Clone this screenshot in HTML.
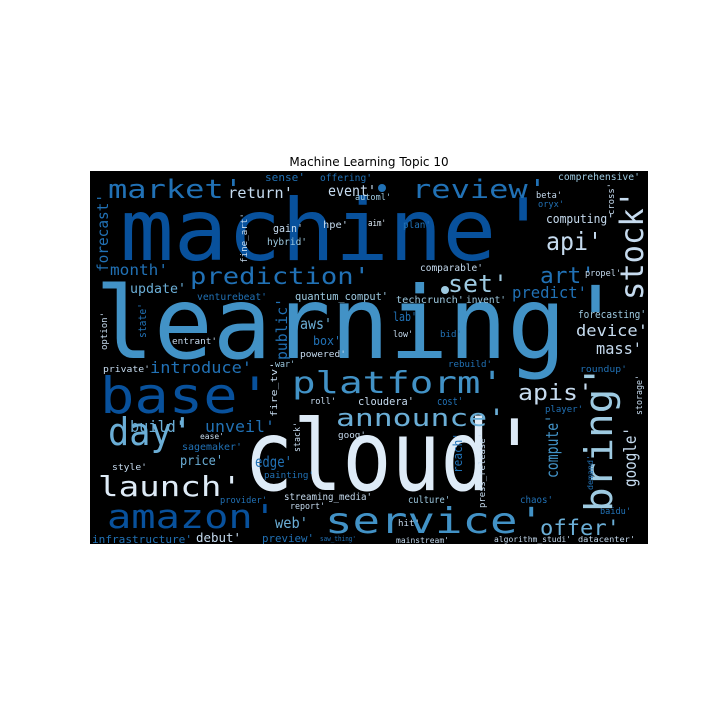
<!DOCTYPE html>
<html><head><meta charset="utf-8"><style>
html,body{margin:0;padding:0;background:#fff;}
svg{display:block;}
text{font-family:"DejaVu Sans Mono","Liberation Mono",monospace;}
.D{fill:#08519c}.M{fill:#2171b5}.B{fill:#4292c6}.L{fill:#6baed6}.LL{fill:#9ecae1}.P{fill:#c6dbef}.W{fill:#deebf7}
</style></head><body>
<svg width="720" height="720" viewBox="0 0 720 720" xmlns="http://www.w3.org/2000/svg">
<rect width="720" height="720" fill="#fff"/>
<text x="369" y="166" text-anchor="middle" style="font-family:'DejaVu Sans','Liberation Sans',sans-serif" font-size="12" fill="#000">Machine Learning Topic 10</text>
<rect x="90" y="171" width="558" height="373" fill="#000"/>
<g>
<text class="D" x="120" y="260" font-size="86" textLength="430" lengthAdjust="spacingAndGlyphs">machine'</text>
<text class="B" x="95" y="358" font-size="100" textLength="530" lengthAdjust="spacingAndGlyphs">learning'</text>
<text class="W" x="244" y="490" font-size="98" textLength="295" lengthAdjust="spacingAndGlyphs">cloud'</text>
<text class="D" x="100" y="413" font-size="50" textLength="172" lengthAdjust="spacingAndGlyphs">base'</text>
<text class="B" x="292" y="393" font-size="30" textLength="212" lengthAdjust="spacingAndGlyphs">platform'</text>
<text class="L" x="336" y="426" font-size="24" textLength="170" lengthAdjust="spacingAndGlyphs">announce'</text>
<text class="B" x="325" y="533" font-size="36" textLength="220" lengthAdjust="spacingAndGlyphs">service'</text>
<text class="D" x="107" y="528" font-size="33" textLength="170" lengthAdjust="spacingAndGlyphs">amazon'</text>
<text class="W" x="98" y="496" font-size="28" textLength="144" lengthAdjust="spacingAndGlyphs">launch'</text>
<text class="L" x="108" y="445" font-size="38" textLength="85" lengthAdjust="spacingAndGlyphs">day'</text>
<text class="M" x="108" y="198" font-size="26" textLength="135" lengthAdjust="spacingAndGlyphs">market'</text>
<text class="M" x="412" y="198" font-size="26" textLength="135" lengthAdjust="spacingAndGlyphs">review'</text>
<text class="M" x="190" y="284" font-size="23" textLength="180" lengthAdjust="spacingAndGlyphs">prediction'</text>
<text class="P" x="546" y="250" font-size="25" textLength="56" lengthAdjust="spacingAndGlyphs">api'</text>
<text class="LL" x="448" y="292" font-size="24" textLength="60" lengthAdjust="spacingAndGlyphs">set'</text>
<text class="M" x="540" y="283" font-size="22" textLength="55" lengthAdjust="spacingAndGlyphs">art'</text>
<text class="P" x="518" y="400" font-size="22" textLength="75" lengthAdjust="spacingAndGlyphs">apis'</text>
<text class="L" x="540" y="535" font-size="21" textLength="80" lengthAdjust="spacingAndGlyphs">offer'</text>
<text class="P" x="576" y="336" font-size="16" textLength="72" lengthAdjust="spacingAndGlyphs">device'</text>
<text class="P" x="596" y="354" font-size="16" textLength="46" lengthAdjust="spacingAndGlyphs">mass'</text>
<text class="M" x="512" y="298" font-size="16" textLength="75" lengthAdjust="spacingAndGlyphs">predict'</text>
<text class="M" x="110" y="275" font-size="15" textLength="58" lengthAdjust="spacingAndGlyphs">month'</text>
<text class="P" x="228" y="198" font-size="15" textLength="65" lengthAdjust="spacingAndGlyphs">return'</text>
<text class="P" x="328" y="196" font-size="15" textLength="48" lengthAdjust="spacingAndGlyphs">event'</text>
<text class="L" x="130" y="293" font-size="13" textLength="56" lengthAdjust="spacingAndGlyphs">update'</text>
<text class="L" x="300" y="329" font-size="15" textLength="32" lengthAdjust="spacingAndGlyphs">aws'</text>
<text class="M" x="313" y="345" font-size="12" textLength="28" lengthAdjust="spacingAndGlyphs">box'</text>
<text class="LL" x="295" y="300" font-size="11" textLength="93" lengthAdjust="spacingAndGlyphs">quantum_comput'</text>
<text class="LL" x="396" y="303" font-size="10" textLength="68" lengthAdjust="spacingAndGlyphs">techcrunch'</text>
<text class="LL" x="466" y="303" font-size="10" textLength="40" lengthAdjust="spacingAndGlyphs">invent'</text>
<text class="P" x="420" y="271" font-size="10" textLength="63" lengthAdjust="spacingAndGlyphs">comparable'</text>
<text class="P" x="585" y="276" font-size="9" textLength="36" lengthAdjust="spacingAndGlyphs">propel'</text>
<text class="P" x="546" y="223" font-size="12" textLength="68" lengthAdjust="spacingAndGlyphs">computing'</text>
<text class="P" x="536" y="198" font-size="9" textLength="26" lengthAdjust="spacingAndGlyphs">beta'</text>
<text class="M" x="538" y="207" font-size="9" textLength="26" lengthAdjust="spacingAndGlyphs">oryx'</text>
<text class="LL" x="558" y="180" font-size="10" textLength="82" lengthAdjust="spacingAndGlyphs">comprehensive'</text>
<text class="M" x="265" y="181" font-size="11" textLength="40" lengthAdjust="spacingAndGlyphs">sense'</text>
<text class="M" x="320" y="181" font-size="10" textLength="52" lengthAdjust="spacingAndGlyphs">offering'</text>
<text class="LL" x="355" y="200" font-size="9" textLength="36" lengthAdjust="spacingAndGlyphs">automl'</text>
<text class="W" x="368" y="226" font-size="9" textLength="18" lengthAdjust="spacingAndGlyphs">aim'</text>
<text class="M" x="403" y="228" font-size="10" textLength="28" lengthAdjust="spacingAndGlyphs">plan'</text>
<text class="P" x="273" y="232" font-size="11" textLength="30" lengthAdjust="spacingAndGlyphs">gain'</text>
<text class="P" x="323" y="228" font-size="10" textLength="25" lengthAdjust="spacingAndGlyphs">hpe'</text>
<text class="LL" x="267" y="245" font-size="10" textLength="40" lengthAdjust="spacingAndGlyphs">hybrid'</text>
<text class="M" x="197" y="300" font-size="10" textLength="70" lengthAdjust="spacingAndGlyphs">venturebeat'</text>
<text class="P" x="172" y="344" font-size="9" textLength="45" lengthAdjust="spacingAndGlyphs">entrant'</text>
<text class="P" x="300" y="357" font-size="9" textLength="46" lengthAdjust="spacingAndGlyphs">powered'</text>
<text class="M" x="393" y="321" font-size="12" textLength="24" lengthAdjust="spacingAndGlyphs">lab'</text>
<text class="P" x="393" y="337" font-size="9" textLength="20" lengthAdjust="spacingAndGlyphs">low'</text>
<text class="M" x="440" y="337" font-size="9" textLength="22" lengthAdjust="spacingAndGlyphs">bid'</text>
<text class="LL" x="578" y="318" font-size="11" textLength="68" lengthAdjust="spacingAndGlyphs">forecasting'</text>
<text class="P" x="103" y="372" font-size="9" textLength="47" lengthAdjust="spacingAndGlyphs">private'</text>
<text class="M" x="150" y="373" font-size="16" textLength="102" lengthAdjust="spacingAndGlyphs">introduce'</text>
<text class="LL" x="275" y="367" font-size="9" textLength="20" lengthAdjust="spacingAndGlyphs">war'</text>
<text class="P" x="310" y="404" font-size="9" textLength="26" lengthAdjust="spacingAndGlyphs">roll'</text>
<text class="P" x="358" y="405" font-size="11" textLength="56" lengthAdjust="spacingAndGlyphs">cloudera'</text>
<text class="M" x="437" y="405" font-size="11" textLength="26" lengthAdjust="spacingAndGlyphs">cost'</text>
<text class="M" x="448" y="367" font-size="9" textLength="44" lengthAdjust="spacingAndGlyphs">rebuild'</text>
<text class="M" x="580" y="372" font-size="9" textLength="47" lengthAdjust="spacingAndGlyphs">roundup'</text>
<text class="M" x="545" y="412" font-size="9" textLength="38" lengthAdjust="spacingAndGlyphs">player'</text>
<text class="L" x="130" y="432" font-size="16" textLength="55" lengthAdjust="spacingAndGlyphs">build'</text>
<text class="M" x="205" y="432" font-size="16" textLength="70" lengthAdjust="spacingAndGlyphs">unveil'</text>
<text class="P" x="200" y="439" font-size="8" textLength="24" lengthAdjust="spacingAndGlyphs">ease'</text>
<text class="M" x="182" y="450" font-size="10" textLength="60" lengthAdjust="spacingAndGlyphs">sagemaker'</text>
<text class="L" x="180" y="465" font-size="13" textLength="43" lengthAdjust="spacingAndGlyphs">price'</text>
<text class="M" x="255" y="467" font-size="15" textLength="37" lengthAdjust="spacingAndGlyphs">edge'</text>
<text class="P" x="338" y="438" font-size="9" textLength="28" lengthAdjust="spacingAndGlyphs">goog'</text>
<text class="P" x="112" y="470" font-size="9" textLength="35" lengthAdjust="spacingAndGlyphs">style'</text>
<text class="M" x="264" y="478" font-size="9" textLength="50" lengthAdjust="spacingAndGlyphs">painting'</text>
<text class="M" x="520" y="503" font-size="10" textLength="33" lengthAdjust="spacingAndGlyphs">chaos'</text>
<text class="LL" x="408" y="503" font-size="10" textLength="42" lengthAdjust="spacingAndGlyphs">culture'</text>
<text class="M" x="220" y="503" font-size="9" textLength="47" lengthAdjust="spacingAndGlyphs">provider'</text>
<text class="P" x="284" y="500" font-size="10" textLength="88" lengthAdjust="spacingAndGlyphs">streaming_media'</text>
<text class="P" x="290" y="509" font-size="9" textLength="35" lengthAdjust="spacingAndGlyphs">report'</text>
<text class="L" x="275" y="528" font-size="15" textLength="33" lengthAdjust="spacingAndGlyphs">web'</text>
<text class="P" x="398" y="526" font-size="9" textLength="22" lengthAdjust="spacingAndGlyphs">hit'</text>
<text class="M" x="600" y="514" font-size="9" textLength="31" lengthAdjust="spacingAndGlyphs">baidu'</text>
<text class="M" x="92" y="543" font-size="11" textLength="100" lengthAdjust="spacingAndGlyphs">infrastructure'</text>
<text class="P" x="196" y="542" font-size="12" textLength="45" lengthAdjust="spacingAndGlyphs">debut'</text>
<text class="M" x="262" y="542" font-size="11" textLength="52" lengthAdjust="spacingAndGlyphs">preview'</text>
<text class="M" x="320" y="541" font-size="7" textLength="36" lengthAdjust="spacingAndGlyphs">saw_thing'</text>
<text class="P" x="396" y="543" font-size="8" textLength="53" lengthAdjust="spacingAndGlyphs">mainstream'</text>
<text class="P" x="494" y="542" font-size="8" textLength="77" lengthAdjust="spacingAndGlyphs">algorithm_studi'</text>
<text class="P" x="578" y="542" font-size="8" textLength="57" lengthAdjust="spacingAndGlyphs">datacenter'</text>

<text class="M" transform="translate(108,272) rotate(-90)" font-size="15" textLength="78" lengthAdjust="spacingAndGlyphs">forecast'</text>
<text class="LL" transform="translate(612,512) rotate(-90)" font-size="38" textLength="148" lengthAdjust="spacingAndGlyphs">bring'</text>
<text class="P" transform="translate(643,300) rotate(-90)" font-size="32" textLength="110" lengthAdjust="spacingAndGlyphs">stock'</text>
<text class="P" transform="translate(636,487) rotate(-90)" font-size="17" textLength="60" lengthAdjust="spacingAndGlyphs">google'</text>
<text class="B" transform="translate(558,478) rotate(-90)" font-size="17" textLength="63" lengthAdjust="spacingAndGlyphs">compute'</text>
<text class="P" transform="translate(642,415) rotate(-90)" font-size="9" textLength="40" lengthAdjust="spacingAndGlyphs">storage'</text>
<text class="M" transform="translate(462,473) rotate(-90)" font-size="12" textLength="40" lengthAdjust="spacingAndGlyphs">reach'</text>
<text class="P" transform="translate(485,508) rotate(-90)" font-size="9" textLength="75" lengthAdjust="spacingAndGlyphs">press_release'</text>
<text class="M" transform="translate(593,490) rotate(-90)" font-size="8" textLength="35" lengthAdjust="spacingAndGlyphs">demand'</text>
<text class="M" transform="translate(287,360) rotate(-90)" font-size="15" textLength="62" lengthAdjust="spacingAndGlyphs">public'</text>
<text class="M" transform="translate(146,338) rotate(-90)" font-size="11" textLength="35" lengthAdjust="spacingAndGlyphs">state'</text>
<text class="P" transform="translate(107,350) rotate(-90)" font-size="9" textLength="38" lengthAdjust="spacingAndGlyphs">option'</text>
<text class="P" transform="translate(247,263) rotate(-90)" font-size="9" textLength="50" lengthAdjust="spacingAndGlyphs">fine_art'</text>
<text class="P" transform="translate(277,417) rotate(-90)" font-size="9" textLength="55" lengthAdjust="spacingAndGlyphs">fire_tv'</text>
<text class="P" transform="translate(300,452) rotate(-90)" font-size="9" textLength="30" lengthAdjust="spacingAndGlyphs">stack'</text>
<text class="P" transform="translate(614,215) rotate(-90)" font-size="9" textLength="32" lengthAdjust="spacingAndGlyphs">cross'</text>
</g>
<circle cx="382" cy="188" r="4" fill="#2171b5"/>
<circle cx="445" cy="290" r="4" fill="#9ecae1"/>
</svg>
</body></html>
